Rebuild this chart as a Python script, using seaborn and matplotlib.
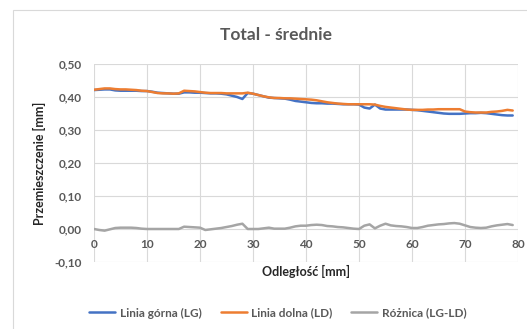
import numpy as np
import pandas as pd
import matplotlib
matplotlib.use("Agg")
import matplotlib.pyplot as plt
from matplotlib.patches import Rectangle
import seaborn as sns

# Distance along the measured line [mm]
distance = list(range(0, 80))

# Mean displacement of the upper line (LG) [mm]
linia_gorna = [
    0.421, 0.422, 0.423, 0.423, 0.420, 0.419, 0.419, 0.419, 0.419, 0.418,
    0.418, 0.416, 0.413, 0.412, 0.411, 0.410, 0.410, 0.414, 0.414, 0.413,
    0.413, 0.412, 0.411, 0.411, 0.410, 0.408, 0.404, 0.400, 0.394, 0.412,
    0.410, 0.406, 0.402, 0.398, 0.397, 0.396, 0.395, 0.392, 0.388, 0.386,
    0.384, 0.382, 0.381, 0.381, 0.380, 0.380, 0.379, 0.378, 0.378, 0.378,
    0.377, 0.368, 0.365, 0.377, 0.365, 0.362, 0.362, 0.362, 0.362, 0.362,
    0.361, 0.360, 0.358, 0.356, 0.354, 0.352, 0.350, 0.349, 0.349, 0.349,
    0.350, 0.351, 0.351, 0.352, 0.351, 0.349, 0.347, 0.345, 0.344, 0.344,
]

# Mean displacement of the lower line (LD) [mm]
linia_dolna = [
    0.422, 0.424, 0.426, 0.426, 0.424, 0.423, 0.423, 0.422, 0.421, 0.419,
    0.418, 0.415, 0.412, 0.411, 0.411, 0.410, 0.411, 0.419, 0.418, 0.417,
    0.415, 0.413, 0.412, 0.412, 0.412, 0.411, 0.411, 0.411, 0.411, 0.413,
    0.410, 0.406, 0.402, 0.399, 0.397, 0.397, 0.396, 0.396, 0.395, 0.394,
    0.393, 0.392, 0.390, 0.387, 0.384, 0.382, 0.380, 0.379, 0.378, 0.378,
    0.378, 0.378, 0.378, 0.377, 0.373, 0.370, 0.368, 0.366, 0.364, 0.362,
    0.361, 0.361, 0.361, 0.362, 0.362, 0.363, 0.363, 0.363, 0.363, 0.363,
    0.356, 0.354, 0.353, 0.353, 0.353, 0.355, 0.356, 0.358, 0.361, 0.359,
]

# Difference between the two lines [mm]
roznica = [
    0.000, -0.003, -0.005, -0.001, 0.003, 0.004, 0.004, 0.004, 0.003, 0.001,
    0.000, 0.000, 0.000, 0.000, 0.000, 0.000, 0.000, 0.007, 0.006, 0.005,
    0.004, -0.003, -0.001, 0.001, 0.003, 0.006, 0.009, 0.013, 0.016, 0.000,
    0.000, 0.000, 0.002, 0.004, 0.001, 0.001, 0.001, 0.004, 0.008, 0.010,
    0.010, 0.012, 0.013, 0.012, 0.009, 0.008, 0.006, 0.005, 0.003, 0.001,
    0.000, 0.010, 0.014, 0.002, 0.010, 0.016, 0.011, 0.009, 0.008, 0.006,
    0.003, 0.003, 0.006, 0.010, 0.012, 0.014, 0.015, 0.017, 0.018, 0.016,
    0.011, 0.006, 0.004, 0.003, 0.004, 0.008, 0.011, 0.013, 0.015, 0.012,
]

series_names = ["Linia górna (LG)", "Linia dolna (LD)", "Różnica (LG-LD)"]
series_colors = ["#4472C4", "#ED7D31", "#A5A5A5"]

x_ticks = list(range(0, 81, 10))
y_ticks = [-0.10, 0.00, 0.10, 0.20, 0.30, 0.40, 0.50]

df = pd.DataFrame({
    "Odległość": distance * 3,
    "Wartość": linia_gorna + linia_dolna + roznica,
    "Seria": sum([[n] * len(distance) for n in series_names], []),
})

sns.set_style("white")
plt.rcParams["font.family"] = ["Lato", "DejaVu Sans"]

fig = plt.figure(figsize=(5.27, 3.29), dpi=100)
fig.patch.set_facecolor("white")

# Chart area outline
fig.patches.append(Rectangle((13 / 527, -0.1), 1.2, 1 - 10 / 329 + 0.1,
                             transform=fig.transFigure, fill=False,
                             edgecolor="#D9D9D9", linewidth=0.8))

ax = fig.add_axes([94 / 527, 1 - 262 / 329, 424 / 527, 198 / 329])

sns.lineplot(data=df, x="Odległość", y="Wartość", hue="Seria",
             hue_order=series_names, palette=series_colors,
             linewidth=1.8, ax=ax, legend=False)

ax.set_xlim(0, 80)
ax.set_ylim(-0.10, 0.50)
ax.set_xticks(x_ticks)
ax.set_yticks(y_ticks)
ax.set_yticklabels([f"{v:.2f}".replace(".", ",") for v in y_ticks])
ax.set_xticklabels([str(v) for v in x_ticks])

ax.grid(True, color="#D9D9D9", linewidth=0.8)
ax.set_axisbelow(True)
for name in ["top", "right", "left", "bottom"]:
    ax.spines[name].set_visible(False)
# x-axis labels sit on the zero line
ax.spines["bottom"].set_position(("data", 0))

ax.tick_params(axis="both", length=0, labelcolor="#595959", labelsize=8.5)
ax.tick_params(axis="y", pad=9)
ax.tick_params(axis="x", pad=7)
for lab in ax.get_xticklabels() + ax.get_yticklabels():
    lab.set_fontweight("bold")

ax.set_xlabel("Odległość [mm]", fontsize=9, fontweight="bold", color="#262626")
ax.set_ylabel("Przemieszczenie [mm]", fontsize=9, fontweight="bold", color="#262626")
ax.xaxis.set_label_coords(0.5, -0.015)
ax.xaxis.label.set_verticalalignment("top")
ax.yaxis.set_label_coords(-0.113, 0.5)

fig.text(276 / 527, 1 - 35 / 329, "Total - średnie", ha="center", va="center",
         fontsize=12.5, color="#595959", fontweight="bold")

handles = [plt.Line2D([], [], color=c, linewidth=1.8) for c in series_colors]
fig.legend(handles, series_names, loc="center", bbox_to_anchor=(278 / 527, 1 - 313 / 329),
           ncol=3, frameon=False, handlelength=2.2, columnspacing=1.6,
           handletextpad=0.4, labelcolor="#595959", prop={"weight": "bold", "size": 8.5})

fig.savefig("out.png", dpi=100)
